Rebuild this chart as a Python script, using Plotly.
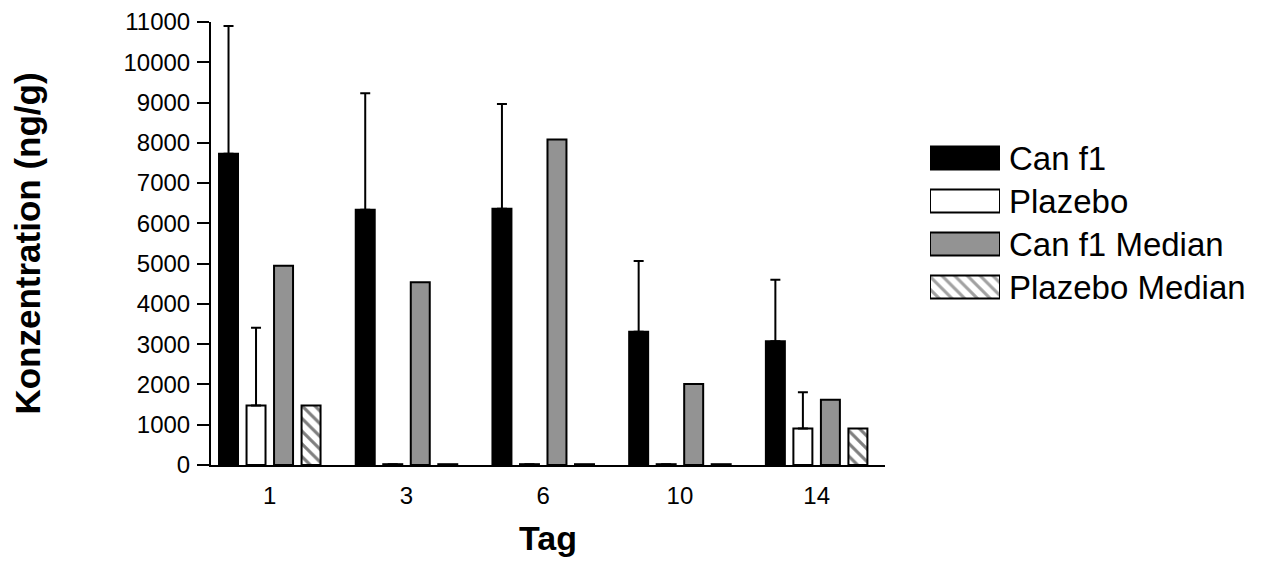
import plotly.graph_objects as go

# --- data ---
tage = ["1", "3", "6", "10", "14"]
can_f1 = [7730, 6340, 6360, 3310, 3070]
can_f1_err = [3170, 2890, 2605, 1758, 1527]
plazebo = [1478, 20, 20, 20, 904]
plazebo_err = [1928, None, None, None, 902]
can_f1_median = [4950, 4540, 8080, 2010, 1620]
plazebo_median = [1478, 20, 20, 20, 904]

y_ticks = list(range(0, 11001, 1000))

legend_names = ["Can f1", "Plazebo", "Can f1 Median", "Plazebo Median"]
legend_colors = ["black", "white", "#939393", "white"]
legend_patterns = ["", "", "", "\\"]

FONT = "Liberation Sans, Arial, sans-serif"
OFF = 8  # page body margin
W, H = 1287 - 2 * OFF, 565 - 2 * OFF
L, T, B = 211 - OFF, 22 - OFF, H - (465 - OFF)
R = W - (1275 - OFF)
plot_w = W - L - R
plot_h = H - T - B


def px_x(p):
    # screen pixel -> paper fraction
    return (p - OFF - L) / plot_w


def px_y(p):
    return 1 - (p - OFF - T) / plot_h


fig = go.Figure()

err_style = dict(type="data", symmetric=False, color="black", thickness=2, width=5)
hatch = dict(shape="\\", fgcolor="black", bgcolor="white", size=9, solidity=0.35)

fig.add_trace(go.Bar(
    x=tage, y=can_f1, name="Can f1",
    marker=dict(color="black", line=dict(color="black", width=2)),
    error_y=dict(array=can_f1_err, arrayminus=[0] * 5, **err_style),
))
fig.add_trace(go.Bar(
    x=tage, y=plazebo, name="Plazebo",
    marker=dict(color="white", line=dict(color="black", width=2)),
    error_y=dict(array=plazebo_err, arrayminus=[0] * 5, **err_style),
))
fig.add_trace(go.Bar(
    x=tage, y=can_f1_median, name="Can f1 Median",
    marker=dict(color="#939393", line=dict(color="black", width=2)),
))
fig.add_trace(go.Bar(
    x=tage, y=plazebo_median, name="Plazebo Median",
    marker=dict(color="white", line=dict(color="black", width=2), pattern=hatch),
))

# legend key drawn as its own little bar axis (big swatches like the original)
fig.add_trace(go.Bar(
    x=[1, 1, 1, 1], y=legend_names, orientation="h", width=0.53,
    xaxis="x2", yaxis="y2", showlegend=False, hoverinfo="skip",
    marker=dict(color=legend_colors, line=dict(color="black", width=2),
                pattern=dict(shape=legend_patterns, fgcolor="black",
                             bgcolor=legend_colors, size=9, solidity=0.35)),
))

fig.update_layout(
    width=W, height=H,
    margin=dict(l=L, r=R, t=T, b=B, autoexpand=False),
    paper_bgcolor="white", plot_bgcolor="white",
    font=dict(family=FONT, color="black"),
    barmode="group", bargap=0.195, bargroupgap=0.31,
    showlegend=False,
    xaxis=dict(
        domain=[0, px_x(885)], type="category", range=[-0.43, 4.5],
        showline=True, linecolor="black", linewidth=2,
        ticks="", ticklabelstandoff=8, showgrid=False, zeroline=False,
        tickfont=dict(size=24),
        title=dict(text="<b>Tag</b>", font=dict(size=34), standoff=18),
    ),
    yaxis=dict(
        range=[0, 11000], tickvals=y_ticks, ticktext=[str(v) for v in y_ticks],
        showline=True, linecolor="black", linewidth=2,
        ticks="outside", ticklen=12, tickwidth=2, tickcolor="black",
        ticklabelstandoff=2, ticklabeloverflow="allow",
        showgrid=False, zeroline=False,
        tickfont=dict(size=24),
        title=dict(text="<b>Konzentration (ng/g)</b>", font=dict(size=35), standoff=80),
    ),
    xaxis2=dict(domain=[px_x(930), px_x(1000)], range=[0, 1], visible=False,
                anchor="y2"),
    yaxis2=dict(domain=[px_y(308.5), px_y(136.5)], anchor="x2", side="right",
                type="category", categoryorder="array",
                categoryarray=legend_names[::-1],
                showline=False, showgrid=False, zeroline=False, ticks="",
                ticklabelstandoff=8, tickfont=dict(size=33)),
)

fig.write_html("out.html")
